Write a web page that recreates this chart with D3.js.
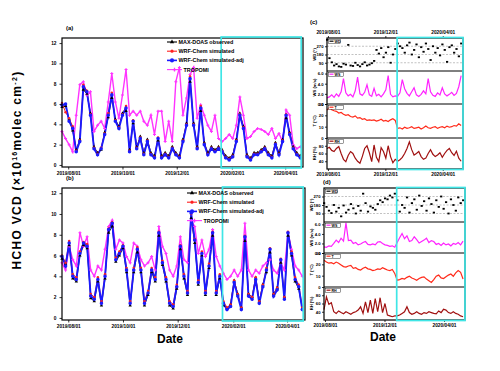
<!DOCTYPE html>
<html><head><meta charset="utf-8">
<script src="https://cdn.jsdelivr.net/npm/d3@7"></script>
<style>
body{margin:0;background:#fff}
svg{display:block}
text{font-family:"Liberation Sans",Arial,sans-serif;font-weight:bold;fill:#000}
</style>
</head><body>
<svg id="chart" width="500" height="371"></svg>
<script>
// ---------- DATA ----------
const leftStart = "2019-07-25", leftEnd = "2020-04-21", leftStepDays = 4;
const leftTicks = ["2019-08-01","2019-10-01","2019-12-01","2020-02-01","2020-04-01"];
const leftYTicks = [0,2,4,6,8,10,12];
const leftCyan = ["2020-01-20","2020-04-19"];
const seriesNames = ["MAX-DOAS observed","WRF-Chem simulated","WRF-Chem simulated-adj","TROPOMI"];

const aBlack = [5.7,5.8,4.5,3.4,1.5,2.5,7.4,7.0,5.1,1.8,1.2,1.5,3.2,4.7,6.6,4.5,3.8,5.1,5.3,1.5,4.1,1.8,2.8,1.2,2.5,1.2,0.9,2.4,0.9,1.2,0.9,1.8,1.2,0.9,2.5,4.1,8.2,4.1,1.8,5.3,2.2,1.2,1.8,1.5,1.8,1.5,0.9,0.7,1.0,2.5,5.1,3.8,1.0,0.7,1.2,1.2,1.5,1.8,1.2,0.9,2.2,1.2,2.5,4.6,3.2,1.8,1.2,0.9];
const aRed = [6.1,5.2,4.6,3.8,1.4,2.4,7.9,7.3,5.0,1.7,1.1,1.7,3.1,5.1,7.1,4.4,3.7,5.0,5.8,1.4,4.4,1.7,2.7,1.1,2.4,1.1,0.8,2.7,0.8,1.1,0.8,1.7,1.1,0.8,2.4,4.0,8.7,4.0,1.7,5.8,2.1,1.1,1.7,1.4,1.7,1.4,0.8,0.6,0.9,2.4,5.0,3.7,0.9,0.6,1.1,1.1,1.4,1.7,1.1,0.8,2.1,1.1,2.4,5.0,3.1,1.7,1.1,0.8];
const aBlue = [5.9,6.0,4.3,3.6,1.3,2.3,7.7,7.2,4.9,1.6,1.0,1.6,3.0,4.9,6.9,4.3,3.6,4.9,5.6,1.3,4.3,1.6,2.6,1.0,2.3,1.0,0.7,2.6,0.7,1.0,0.7,1.6,1.0,0.7,2.3,3.9,8.5,3.9,1.6,5.6,2.0,1.0,1.6,1.3,1.6,1.3,0.7,0.5,0.8,2.3,4.9,3.6,0.8,0.5,1.0,1.0,1.3,1.6,1.0,0.7,2.0,1.0,2.3,4.9,3.0,1.6,1.0,0.7];
const aMagenta = [3.3,2.6,2.0,1.3,4.9,7.9,8.2,6.9,7.2,3.3,3.9,4.3,3.6,6.2,9.0,6.2,4.6,6.9,9.4,4.9,5.3,4.9,5.3,4.3,3.9,4.9,3.0,5.3,5.3,2.3,4.3,2.3,8.2,9.6,4.9,6.6,8.9,9.6,4.6,5.9,4.9,3.9,3.3,4.9,2.6,2.3,2.6,3.0,2.6,3.9,6.7,4.9,2.6,2.8,3.3,3.6,3.5,3.3,3.0,3.6,2.6,3.1,2.3,5.4,4.9,2.0,1.6,1.8];

const bBlack = [5.7,5.2,7.0,3.8,3.5,6.0,7.0,6.7,1.9,1.6,3.5,1.2,3.8,8.2,8.8,5.4,6.0,6.7,4.4,1.2,4.4,6.3,4.4,1.2,2.2,4.4,3.5,7.9,5.1,3.5,1.2,0.9,2.8,6.6,3.8,2.2,9.6,7.2,3.2,6.0,2.2,4.8,7.9,2.2,3.8,1.2,0.9,1.3,3.6,2.3,1.0,7.4,2.3,2.0,3.9,1.6,3.2,4.4,6.3,2.3,2.9,5.3,2.0,7.9,6.0,3.5,2.8,0.9];
const bRed = [6.0,5.3,7.4,4.2,3.9,6.4,7.3,7.1,2.3,2.0,3.9,1.6,4.2,8.6,9.2,5.8,6.4,7.0,4.8,1.6,4.8,6.8,4.8,1.6,2.6,4.8,3.9,8.3,5.5,3.9,1.6,1.3,3.2,7.0,4.2,2.6,10.0,7.6,3.6,6.4,2.6,5.2,8.3,2.6,4.2,1.6,1.0,1.3,3.6,2.3,1.0,7.9,2.3,2.0,3.9,1.6,3.2,4.8,6.7,2.3,2.9,5.7,2.0,8.3,6.4,3.9,3.2,1.0];
const bBlue = [5.9,5.0,7.2,4.0,3.7,6.2,7.2,6.9,2.1,1.8,3.7,1.4,4.0,8.5,9.1,5.6,6.2,6.9,4.6,1.4,4.6,6.6,4.6,1.4,2.4,4.6,3.7,8.2,5.3,3.7,1.4,1.1,3.0,6.9,4.0,2.4,10.1,7.5,3.4,6.2,2.4,5.0,8.2,2.4,4.0,1.4,0.8,1.1,3.4,2.1,0.8,7.8,2.1,1.8,3.7,1.4,3.0,4.6,6.6,2.1,2.7,5.6,1.8,8.2,6.2,3.7,3.0,0.8];
const bMagenta = [5.3,4.6,6.9,5.6,5.0,8.2,6.9,7.8,4.6,4.0,5.0,4.6,6.6,8.8,9.4,6.6,7.5,7.2,5.9,5.3,7.2,6.9,5.6,5.0,5.3,5.9,4.6,8.8,6.9,6.2,4.6,4.0,5.0,7.8,5.6,5.3,9.4,8.8,6.2,7.5,5.9,6.6,8.5,5.9,5.0,4.3,3.7,4.0,4.6,4.0,4.6,9.1,4.6,4.0,4.6,4.3,5.0,5.3,5.6,4.6,4.3,5.3,4.6,8.2,6.6,5.0,4.6,4.0];

const rightStart = "2019-07-30", rightEnd = "2020-05-14", rightStepDays = 5;
const rightTicks = ["2019-08-01","2019-12-01","2020-04-01"];
const rightCyan = ["2019-12-26","2020-05-14"];
const rowNames = ["WD","WS","T","RH"];
const rowTitles = ["WD (°)","WS (m/s)","T (°C)","RH (%)"];
const rowYTicks = [[90,180,270],[0,2,4,6],[0,10,20,30],[40,60,80]];

const cWD = [340,140,95,60,75,50,45,80,70,285,60,55,90,65,50,75,95,60,70,85,110,230,190,250,150,200,260,90,180,240,300,270,250,200,280,310,180,230,290,150,260,210,300,240,120,270,200,250,170,290,230,100,260,280,200,240,160,300];
const cWS = [1.2,1.4,1.8,1.3,2.0,1.5,2.4,5.0,2.2,1.6,1.9,1.4,2.6,5.3,2.0,1.7,2.3,3.8,1.8,1.5,3.1,1.6,1.9,1.4,2.0,2.8,5.6,1.9,1.4,1.6,1.5,2.2,4.8,3.0,2.1,1.6,2.4,3.2,1.8,1.5,1.9,2.6,2.0,5.0,2.4,1.7,1.5,2.2,1.8,3.2,2.0,1.6,1.9,2.3,1.7,2.1,3.4,5.6];
const cT = [24.5,27.0,25.0,24.0,23.5,22.0,22.5,21.0,20.0,20.5,19.0,18.5,19.5,17.5,18.0,16.5,17.0,15.5,16.0,15.5,16.0,15.0,15.5,16.5,15.0,15.5,14.5,16.0,17.0,15.5,8.5,9.0,8.0,9.5,8.5,9.0,10.0,8.5,9.0,9.5,8.0,9.0,10.5,9.0,8.5,9.5,10.0,8.5,9.5,10.0,9.0,10.5,9.5,10.0,11.0,10.5,12.5,11.0];
const cRH = [73,76,68,65,73,78,60,45,39,55,65,60,48,40,35,52,73,80,62,39,82,50,39,75,65,48,80,52,36,45,40,44,50,60,73,90,70,56,60,65,52,45,48,60,70,58,52,56,62,50,60,68,73,62,55,66,48,40];

const dWD = [200,160,120,95,180,110,150,60,175,100,130,190,145,90,170,120,300,200,110,165,150,130,190,230,210,250,240,280,260,300,230,110,180,150,260,100,200,240,130,280,170,220,120,250,190,100,230,160,270,140,210,90,240,180,120,260,200,230];
const dWS = [1.3,1.2,1.5,1.4,2.0,2.7,2.2,3.1,2.5,6.3,2.6,2.7,2.0,2.2,1.7,1.9,2.2,2.4,1.8,1.7,1.9,1.7,2.3,2.4,2.0,1.7,1.6,1.4,1.5,1.2,2.2,3.2,4.1,3.0,3.6,2.4,2.6,3.4,2.8,2.1,2.4,2.7,3.1,2.2,2.6,2.4,1.8,2.0,1.6,2.1,1.7,1.9,1.5,2.0,1.8,2.2,1.7,2.5];
const dT = [23.5,22.0,21.0,21.5,20.5,22.0,21.0,19.5,18.0,17.5,18.5,19.0,16.5,17.0,15.5,15.0,16.5,17.5,16.0,15.5,14.5,15.0,16.0,15.5,17.0,16.0,15.0,14.5,15.5,12.0,6.0,6.5,7.5,7.0,8.5,9.5,8.0,7.0,6.0,7.5,8.5,9.0,7.0,5.5,4.0,6.5,9.5,10.5,8.0,7.5,9.0,10.5,11.5,9.5,12.5,14.5,13.0,7.0];
const dRH = [45,76,58,62,40,36,42,38,35,40,37,34,38,40,44,52,36,64,38,68,36,72,40,74,38,60,32,30,28,30,30,32,36,40,52,38,34,36,40,36,34,38,36,40,38,36,35,42,38,46,44,38,36,40,36,34,30,28];

// ---------- HELPERS ----------
const parse = d3.timeParse("%Y-%m-%d");
const fmt = d3.timeFormat("%Y/%m/%d");
function dateList(start, step, n){ const s=parse(start); return d3.range(n).map(i=>d3.timeDay.offset(s, i*step)); }
const leftDates = dateList(leftStart, leftStepDays, aBlue.length);
const rightDates = dateList(rightStart, rightStepDays, cWD.length);

const svg = d3.select("#chart");
const CYAN = "#3fe6e6";
const seriesColors = ["#000000","#ff2020","#1a1aff","#ff33ff"];

function leftPanel(box, series, legend, label){
  const g = svg.append("g");
  const x = d3.scaleTime().domain([parse(leftStart), parse(leftEnd)]).range([box.x0, box.x1]);
  const y = d3.scaleLinear().domain([-0.2, 12.5]).range([box.y1, box.y0]);
  const line = d3.line().x((d,i)=>x(leftDates[i])).y(d=>y(d));
  const styles = [
    {w:0.9, sym:d3.symbolTriangle, size:5},
    {w:1.0, sym:d3.symbolCircle, size:5},
    {w:1.9, sym:d3.symbolCircle, size:10},
    {w:1.4, sym:d3.symbolCross, size:5}
  ];
  const order = [3,0,1,2];
  order.forEach(k=>{
    const s = series[k];
    g.append("path").datum(s).attr("d", line).attr("fill","none")
      .attr("stroke", seriesColors[k]).attr("stroke-width", styles[k].w);
  });
  order.forEach(k=>{
    const s = series[k];
    g.append("g").selectAll("path").data(s).join("path")
      .attr("transform",(d,i)=>`translate(${x(leftDates[i])},${y(d)})`)
      .attr("d", d3.symbol().type(styles[k].sym).size(styles[k].size))
      .attr("fill", seriesColors[k]);
  });
  g.append("rect").attr("x",box.x0).attr("y",box.y0).attr("width",box.x1-box.x0).attr("height",box.y1-box.y0)
    .attr("fill","none").attr("stroke","#000").attr("stroke-width",1.2);
  const ax = g.append("g").attr("transform",`translate(0,${box.y1})`)
    .call(d3.axisBottom(x).tickValues(leftTicks.map(parse)).tickFormat(fmt).tickSize(2.5).tickPadding(2));
  const ay = g.append("g").attr("transform",`translate(${box.x0},0)`)
    .call(d3.axisLeft(y).tickValues(leftYTicks).tickSize(2.5).tickPadding(3));
  [ax,ay].forEach(a=>{a.select(".domain").remove(); a.selectAll("line").attr("stroke","#000").attr("stroke-width",0.8);
    a.selectAll("text").style("font-size","4.8px").style("font-weight","bold").attr("fill","#000");});
  g.append("rect").attr("x",x(parse(leftCyan[0]))).attr("y",box.y0-1)
    .attr("width",x(parse(leftCyan[1]))-x(parse(leftCyan[0]))).attr("height",box.y1-box.y0+2)
    .attr("fill","none").attr("stroke",CYAN).attr("stroke-width",1.7);
  seriesNames.forEach((n,k)=>{
    const ly = legend.y + k*9.2;
    const len = k===3 ? 15 : 10;
    g.append("line").attr("x1",legend.x).attr("x2",legend.x+len).attr("y1",ly).attr("y2",ly)
      .attr("stroke",seriesColors[k]).attr("stroke-width",k===2?1.6:1.1);
    g.append("path").attr("transform",`translate(${legend.x+len/2},${ly})`)
      .attr("d", d3.symbol().type(styles[k].sym).size(styles[k].size+3)).attr("fill",seriesColors[k]);
    g.append("text").attr("x",legend.x+len+1.5).attr("y",ly+1.9).style("font-size","5.4px").text(n);
  });
  g.append("text").attr("x",box.x0+4).attr("y",box.y0-8).style("font-size","6px").text(label);
}

leftPanel({x0:62,x1:303,y0:38,y1:167},[aBlack,aRed,aBlue,aMagenta],{x:167,y:42},"(a)");
leftPanel({x0:62,x1:305,y0:188,y1:320},[bBlack,bRed,bBlue,bMagenta],{x:187,y:193},"(b)");

function rightPanel(box, rowsY, data, label, labelPos, topTicks){
  const g = svg.append("g");
  const x = d3.scaleTime().domain([parse(rightStart), parse(rightEnd)]).range([box.x0, box.x1]);
  const domains = [[0,360],[0,6.5],[0,30],[20,100]];
  const colors = ["#000","#ff22ff","#ff2a1a","#a01010"];
  data.forEach((vals,r)=>{
    const y0 = rowsY[r], y1 = rowsY[r+1];
    const y = d3.scaleLinear().domain(domains[r]).range([y1, y0]);
    if(r===0){
      rowYTicks[0].forEach(t=>{
        g.append("line").attr("x1",box.x0).attr("x2",box.x1).attr("y1",y(t)).attr("y2",y(t))
          .attr("stroke","#999").attr("stroke-width",0.6).attr("stroke-dasharray","2,1.5");
      });
      g.append("g").selectAll("rect").data(vals).join("rect")
        .attr("x",(d,i)=>x(rightDates[i])-1).attr("y",d=>y(d)-0.9).attr("width",2.2).attr("height",1.8)
        .attr("fill","#000");
    } else {
      const line = d3.line().x((d,i)=>x(rightDates[i])).y(d=>y(d));
      g.append("path").datum(vals).attr("d",line).attr("fill","none").attr("stroke",colors[r]).attr("stroke-width",1.2);
    }
    const ay = g.append("g").attr("transform",`translate(${box.x0},0)`)
      .call(d3.axisLeft(y).tickValues(rowYTicks[r]).tickSize(2).tickPadding(1.5));
    ay.select(".domain").remove();
    ay.selectAll("line").attr("stroke","#000").attr("stroke-width",0.8);
    ay.selectAll("text").style("font-size","4.2px").style("font-weight","bold").attr("fill","#000");
    g.append("text").attr("transform",`translate(${box.x0-11},${(y0+y1)/2}) rotate(-90)`)
      .attr("text-anchor","middle").style("font-size","4.2px").text(rowTitles[r]);
    g.append("rect").attr("x",box.x0+1.5).attr("y",y0+1.2).attr("width",r===0?12:15).attr("height",4)
      .attr("fill","#fff").attr("stroke","#000").attr("stroke-width",0.4);
    g.append("line").attr("x1",box.x0+2.5).attr("x2",box.x0+6.5).attr("y1",y0+3.2).attr("y2",y0+3.2)
      .attr("stroke",colors[r]).attr("stroke-width",1.2);
    g.append("text").attr("x",box.x0+7.5).attr("y",y0+4.6).style("font-size","3.6px").text(rowNames[r]);
    if(r>0) g.append("line").attr("x1",box.x0).attr("x2",box.x1).attr("y1",y0).attr("y2",y0).attr("stroke","#000").attr("stroke-width",1);
  });
  g.append("rect").attr("x",box.x0).attr("y",rowsY[0]).attr("width",box.x1-box.x0).attr("height",rowsY[4]-rowsY[0])
    .attr("fill","none").attr("stroke","#000").attr("stroke-width",1.2);
  const ax = g.append("g").attr("transform",`translate(0,${rowsY[4]})`)
    .call(d3.axisBottom(x).tickValues(rightTicks.map(parse)).tickFormat(fmt).tickSize(2).tickPadding(1.5));
  const axes=[ax];
  if(topTicks){
    axes.push(g.append("g").attr("transform",`translate(0,${rowsY[0]})`)
      .call(d3.axisTop(x).tickValues(rightTicks.map(parse)).tickFormat(fmt).tickSize(2).tickPadding(2.5)));
  }
  axes.forEach(a=>{a.select(".domain").remove(); a.selectAll("line").attr("stroke","#000").attr("stroke-width",0.8);
    a.selectAll("text").style("font-size","4.8px").style("font-weight","bold").attr("fill","#000");});
  g.append("rect").attr("x",x(parse(rightCyan[0]))).attr("y",rowsY[0]-0.5)
    .attr("width",box.x1 - x(parse(rightCyan[0]))).attr("height",rowsY[4]-rowsY[0]+1)
    .attr("fill","none").attr("stroke",CYAN).attr("stroke-width",1.7);
  g.append("text").attr("x",labelPos[0]).attr("y",labelPos[1]).style("font-size","6px").text(label);
}

rightPanel({x0:327,x1:463},[38,71,104,138,169],[cWD,cWS,cT,cRH],"(c)",[310,24],true);
rightPanel({x0:324,x1:465},[188,222,253,287,320],[dWD,dWS,dT,dRH],"(d)",[323,184],false);

svg.append("text").attr("transform","translate(21,170) rotate(-90)").attr("text-anchor","middle")
  .style("font-size","12px").style("letter-spacing","1.3px").html("HCHO VCD (×10<tspan dy='-4' style='font-size:7px'>16</tspan><tspan dy='4'>molec cm</tspan><tspan dy='-4' style='font-size:7px'>-2</tspan><tspan dy='4'>)</tspan>");
svg.append("text").attr("x",170).attr("y",343).attr("text-anchor","middle").style("font-size","12px").text("Date");
svg.append("text").attr("x",383).attr("y",341).attr("text-anchor","middle").style("font-size","12px").text("Date");
</script>
</body></html>
